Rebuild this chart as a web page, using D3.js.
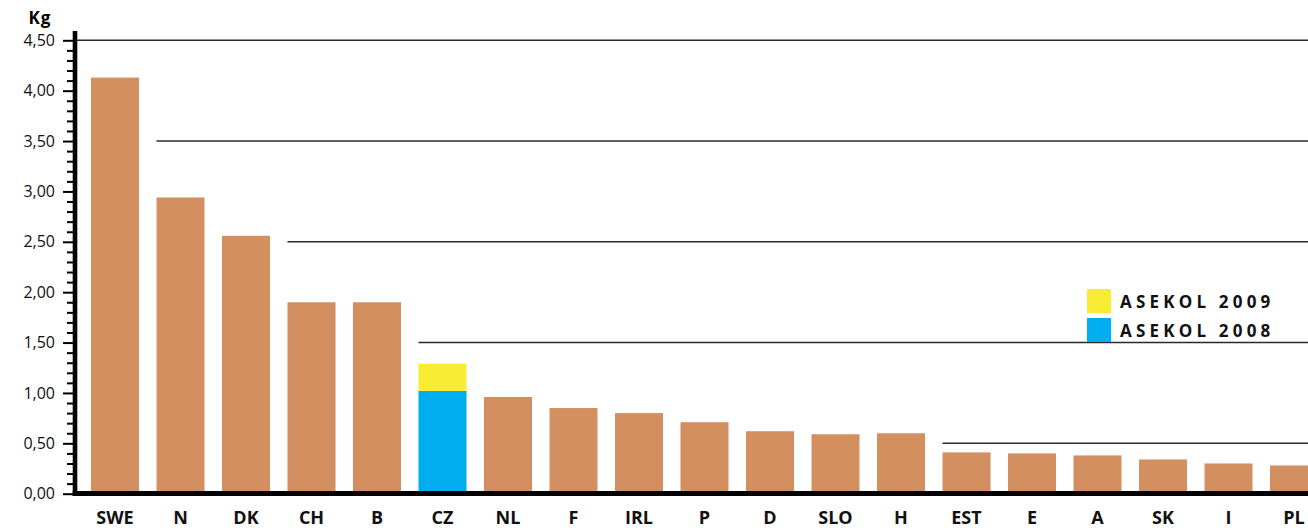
<!DOCTYPE html>
<html>
<head>
<meta charset="utf-8">
<script src="https://cdn.jsdelivr.net/npm/d3@7"></script>
<style>
  html, body { margin: 0; padding: 0; background: #fff; }
  svg { display: block; font-family: "Open Sans", "Noto Sans", sans-serif; }
</style>
</head>
<body>
<svg id="chart" width="1308" height="528"></svg>
<script>
// ---- data ----
const categories = ["SWE","N","DK","CH","B","CZ","NL","F","IRL","P","D","SLO","H","EST","E","A","SK","I","PL"];
const values = [4.13, 2.94, 2.56, 1.90, 1.90, 1.02, 0.96, 0.85, 0.80, 0.71, 0.62, 0.59, 0.60, 0.41, 0.40, 0.38, 0.34, 0.30, 0.28];
const asekol2009Extra = { category: "CZ", value: 0.27 };   // added on top of CZ 2008 value
const highlightCategory = "CZ";
const majorTicks = [0, 0.5, 1, 1.5, 2, 2.5, 3, 3.5, 4, 4.5];
const minorTicks = [];
for (let i = 0; i <= 45; i++) { if (i % 5 !== 0) minorTicks.push(i / 10); }
const gridValues = [4.5, 3.5, 2.5, 1.5, 0.5];
const gridStartCategory = [null, "N", "CH", "CZ", "EST"];
const legendLabels = ["ASEKOL 2009", "ASEKOL 2008"];
const yUnit = "Kg";

// ---- style ----
const colBar = "#D48F61", col2009 = "#F8EC34", col2008 = "#00AEEF";

const svg = d3.select("#chart");
const W = 1308, H = 528;
const axisX = 75, zeroY = 493.7, topY = 40.3;

const y = d3.scaleLinear().domain([0, 4.5]).range([zeroY, topY]);
const step = 65.5, pIn = 17.5 / 65.5, firstX = 91;
const x = d3.scaleBand().domain(categories)
  .range([firstX, firstX + step * (categories.length - pIn)])
  .paddingInner(pIn).paddingOuter(0).align(0);

const locale = d3.formatLocale({ decimal: ",", thousands: ".", grouping: [3], currency: ["", ""] });
const fmt = locale.format(".2f");

// gridlines
svg.append("g").selectAll("line").data(gridValues).join("line")
  .attr("x1", (d, i) => gridStartCategory[i] ? x(gridStartCategory[i]) : axisX)
  .attr("x2", W)
  .attr("y1", d => y(d)).attr("y2", d => y(d))
  .attr("stroke", "#2a2a2a").attr("stroke-width", 1.6);

// bars
const data = categories.map((c, i) => ({ c, v: values[i] }));
svg.append("g").selectAll("rect").data(data).join("rect")
  .attr("x", d => x(d.c)).attr("width", x.bandwidth())
  .attr("y", d => y(d.v)).attr("height", d => y(0) - y(d.v))
  .attr("fill", d => d.c === highlightCategory ? col2008 : colBar);

// 2009 stacked part
const base = values[categories.indexOf(asekol2009Extra.category)];
svg.append("rect")
  .attr("x", x(asekol2009Extra.category)).attr("width", x.bandwidth())
  .attr("y", y(base + asekol2009Extra.value))
  .attr("height", y(base) - y(base + asekol2009Extra.value))
  .attr("fill", col2009);

// y axis - major ticks
const gMaj = svg.append("g").attr("transform", `translate(${axisX},0)`)
  .call(d3.axisLeft(y).tickValues(majorTicks).tickSize(12).tickPadding(8).tickFormat(fmt));
gMaj.select(".domain").remove();
gMaj.selectAll(".tick line").attr("stroke", "#000").attr("stroke-width", 2);
gMaj.selectAll(".tick text").attr("font-size", 16).attr("fill", "#111")
  .attr("font-family", "'Open Sans', sans-serif");

// minor ticks
const gMin = svg.append("g").attr("transform", `translate(${axisX},0)`)
  .call(d3.axisLeft(y).tickValues(minorTicks).tickSize(8).tickFormat(""));
gMin.select(".domain").remove();
gMin.selectAll(".tick line").attr("stroke", "#000").attr("stroke-width", 2);

// axis lines (thick)
svg.append("line").attr("x1", axisX).attr("x2", axisX).attr("y1", 31).attr("y2", 496)
  .attr("stroke", "#000").attr("stroke-width", 4.6);
svg.append("line").attr("x1", 72.7).attr("x2", W).attr("y1", 493.5).attr("y2", 493.5)
  .attr("stroke", "#000").attr("stroke-width", 5);

// unit label
svg.append("text").attr("x", 40).attr("y", 24).attr("text-anchor", "middle")
  .attr("font-size", 17).attr("font-weight", "bold").attr("letter-spacing", 1)
  .text(yUnit);

// category labels
svg.append("g").selectAll("text").data(categories).join("text")
  .attr("x", d => x(d) + x.bandwidth() / 2).attr("y", 524)
  .attr("text-anchor", "middle").attr("font-size", 18).attr("font-weight", "bold")
  .attr("fill", "#111")
  .text(d => d);

// legend
const legColors = [col2009, col2008];
const leg = svg.append("g");
legendLabels.forEach((lab, i) => {
  leg.append("rect").attr("x", 1087).attr("y", 289 + i * 29).attr("width", 24).attr("height", 24)
    .attr("fill", legColors[i]);
  leg.append("text").attr("x", 1120).attr("y", 307.5 + i * 29)
    .attr("font-size", 17).attr("font-weight", "bold").attr("letter-spacing", 4.2)
    .attr("fill", "#111").text(lab);
});
</script>
</body>
</html>
